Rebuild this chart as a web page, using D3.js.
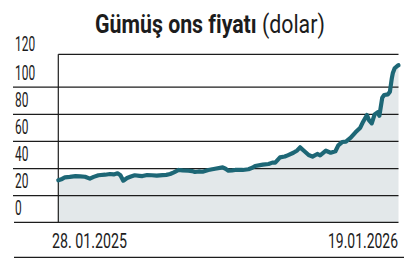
<!DOCTYPE html>
<html lang="tr">
<head>
    <meta charset="UTF-8">
    <title>Gümüş ons fiyatı</title>
    <script src="https://cdn.jsdelivr.net/npm/d3@7"></script>
    <style>
        body { margin: 0; background: #fff; }
        text { font-family: Roboto, "Liberation Sans", sans-serif; fill: #1c1c1c; }
    </style>
</head>
<body>
<svg id="main" width="413" height="264"></svg>
<script>
    // data
    const dates = ['2025-01-28', '2025-02-01', '2025-02-04', '2025-02-09', '2025-02-15', '2025-02-20',
        '2025-02-25', '2025-03-02', '2025-03-06', '2025-03-11', '2025-03-18', '2025-03-23', '2025-03-27',
        '2025-03-31', '2025-04-03', '2025-04-06', '2025-04-10', '2025-04-14', '2025-04-18', '2025-04-23',
        '2025-04-26', '2025-05-01', '2025-05-06', '2025-05-11', '2025-05-17', '2025-05-21', '2025-05-25',
        '2025-05-29', '2025-06-03', '2025-06-07', '2025-06-13', '2025-06-17', '2025-06-20', '2025-06-24',
        '2025-06-28', '2025-07-04', '2025-07-11', '2025-07-19', '2025-07-22', '2025-07-25', '2025-07-29',
        '2025-08-01', '2025-08-09', '2025-08-15', '2025-08-19', '2025-08-22', '2025-08-30', '2025-09-05',
        '2025-09-09', '2025-09-12', '2025-09-17', '2025-09-22', '2025-09-25', '2025-10-01', '2025-10-05',
        '2025-10-08', '2025-10-12', '2025-10-17', '2025-10-21', '2025-10-26', '2025-10-29', '2025-11-04',
        '2025-11-09', '2025-11-14', '2025-11-17', '2025-11-21', '2025-11-25', '2025-11-30', '2025-12-05',
        '2025-12-10', '2025-12-13', '2025-12-17', '2025-12-19', '2025-12-22', '2025-12-25', '2025-12-28',
        '2025-12-30', '2026-01-02', '2026-01-04', '2026-01-08', '2026-01-10', '2026-01-12', '2026-01-13',
        '2026-01-15', '2026-01-18', '2026-01-19'];
    const prices = [31.0, 32.0, 33.2, 33.5, 34.1, 33.9,
        33.6, 32.2, 33.5, 34.7, 35.1, 35.6, 35.3,
        36.1, 34.7, 30.7, 32.7, 33.8, 34.7, 34.3,
        34.1, 34.9, 34.7, 34.4, 34.8, 35.0, 35.6,
        36.8, 38.6, 38.3, 38.1, 37.8, 37.1, 37.5,
        37.3, 38.6, 39.5, 40.5, 39.5, 38.1, 38.3,
        38.6, 38.6, 39.1, 40.2, 41.5, 42.5, 43.0,
        44.0, 44.0, 47.9, 48.5, 49.4, 51.3, 53.0,
        55.3, 52.8, 49.6, 48.4, 50.4, 49.4, 52.8,
        51.3, 52.4, 56.8, 59.2, 59.5, 62.4, 66.4,
        69.8, 74.2, 79.1, 75.4, 73.0, 79.6, 81.1,
        78.6, 91.9, 93.9, 94.4, 96.3, 106.2, 109.9,
        113.6, 115.5, 115.8];
    const yTicks = [0, 20, 40, 60, 80, 100, 120];
    const firstLabel = '28. 01.2025';
    const lastLabel = '19.01.2026';
    const titleBold = 'Gümüş ons fiyatı';
    const titleLight = '(dolar)';

    const parse = d3.timeParse('%Y-%m-%d');
    const data = dates.map((d, i) => ({date: parse(d), value: prices[i]}));

    let svg = d3.select('svg#main');
    let plotLeft = 58.3, plotRight = 398.5, plotTop = 54.3, plotBottom = 222.3;

    let xScale = d3.scaleTime()
        .domain([parse(dates[0]), parse(dates[dates.length - 1])])
        .range([plotLeft, plotRight]);
    let yScale = d3.scaleLinear()
        .domain([0, 120])
        .range([plotBottom, 59.6]);

    // squeeze text horizontally so it looks like the condensed face of the original
    function squeeze(sel, width, x, y, anchor) {
        let w = sel.node().getComputedTextLength();
        let k = width / w;
        let dx = anchor === 'end' ? x - width : x;
        sel.attr('x', 0).attr('y', 0)
            .attr('transform', 'translate(' + dx + ',' + y + ') scale(' + k + ',1)');
    }

    // grey area under the line
    let area = d3.area()
        .x(d => xScale(d.date))
        .y0(plotBottom)
        .y1(d => yScale(d.value));
    svg.append('path')
        .datum(data)
        .attr('fill', '#e3e8ea')
        .attr('d', area);

    // horizontal rules
    svg.append('g')
        .attr('transform', 'translate(13,0)')
        .call(d3.axisRight(yScale).tickValues(yTicks.filter(v => v > 0 && v < 120))
            .tickSize(plotRight - 13).tickFormat(''))
        .call(g => g.select('.domain').remove())
        .selectAll('line').attr('stroke', '#1c1c1c').attr('stroke-width', 1.2);

    svg.append('line')
        .attr('x1', plotLeft).attr('x2', plotRight).attr('y1', plotTop).attr('y2', plotTop)
        .attr('stroke', '#1c1c1c').attr('stroke-width', 1.2);
    svg.append('line')
        .attr('x1', plotLeft).attr('x2', plotLeft).attr('y1', plotTop).attr('y2', plotBottom)
        .attr('stroke', '#1c1c1c').attr('stroke-width', 1.2);
    svg.append('line')
        .attr('x1', 14).attr('x2', plotRight).attr('y1', plotBottom).attr('y2', plotBottom)
        .attr('stroke', '#1c1c1c').attr('stroke-width', 1.3);
    svg.append('line')
        .attr('x1', 14).attr('x2', 404).attr('y1', 257.3).attr('y2', 257.3)
        .attr('stroke', '#1c1c1c').attr('stroke-width', 1.3);

    // price line
    let line = d3.line()
        .x(d => xScale(d.date))
        .y(d => yScale(d.value))
        .curve(d3.curveLinear);
    svg.append('path')
        .datum(data)
        .attr('fill', 'none')
        .attr('stroke', '#1d6776')
        .attr('stroke-width', 4.2)
        .attr('stroke-linejoin', 'round')
        .attr('stroke-linecap', 'round')
        .attr('d', line);

    // y labels, sitting above their rule
    svg.selectAll('.ylab').data(yTicks).enter()
        .append('text')
        .attr('class', 'ylab')
        .style('font-size', '20px')
        .text(d => d)
        .each(function (d) {
            let t = d3.select(this);
            let w = String(d).length * 6.7;
            squeeze(t, w, 15, yScale(d) - 7 - (d === 120 ? 2 : 0), 'start');
        });

    // date labels
    let d1 = svg.append('text').style('font-size', '19.5px').text(firstLabel);
    squeeze(d1, 75, 52, 247.5, 'start');
    let d2 = svg.append('text').style('font-size', '19.5px').text(lastLabel);
    squeeze(d2, 70, 398, 247.5, 'end');

    // title
    let title = svg.append('text').style('font-size', '26px');
    title.append('tspan').style('font-weight', 700).text(titleBold);
    title.append('tspan').style('font-weight', 400).text(' ' + titleLight);
    squeeze(title, 230, 95, 33.3, 'start');
</script>
</body>
</html>
